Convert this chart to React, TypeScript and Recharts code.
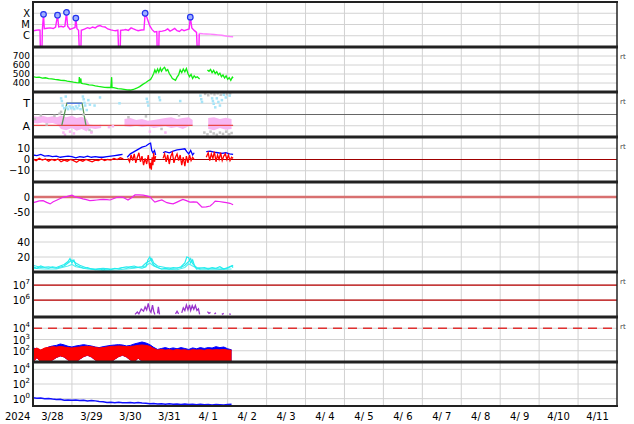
import React from "react";
import {
  ComposedChart,
  Line,
  Area,
  Scatter,
  XAxis,
  YAxis,
  CartesianGrid,
  ReferenceLine,
} from "recharts";

type Pt = [number, number | null];
type Rng = [number, number | null, number | null];

// x axis: days since 3/28 00:00
const dayTicks = [1, 2, 3, 4, 5, 6, 7, 8, 9, 10, 11, 12, 13, 14];
const labelTicks = [0.5, 1.5, 2.5, 3.5, 4.5, 5.5, 6.5, 7.5, 8.5, 9.5, 10.5, 11.5, 12.5, 13.5, 14.5];
const dateLabels = ["3/28", "3/29", "3/30", "3/31", "4/ 1", "4/ 2", "4/ 3", "4/ 4", "4/ 5", "4/ 6", "4/ 7", "4/ 8", "4/ 9", "4/10", "4/11"];

// panel 1: x-ray flux
const xrayFlux: Pt[] = [
  [0.0, 2.7e-6], [0.08, 3.1e-6], [0.15, 3.3e-6], [0.18, 3.2e-6], [0.19, 5e-8], [0.23, 5e-8], [0.24, 3.4e-6],
  [0.27, 8e-5], [0.29, 4.2e-6], [0.36, 4.6e-6], [0.44, 5.0e-6], [0.52, 4.4e-6], [0.58, 6.0e-6], [0.63, 6.7e-5],
  [0.66, 6.2e-6], [0.72, 7.0e-6], [0.78, 6.0e-6], [0.82, 7.4e-6], [0.86, 1.2e-4], [0.89, 7.0e-6], [0.95, 3.6e-6],
  [1.02, 4.5e-6], [1.08, 5.5e-6], [1.1, 3.7e-5], [1.13, 4.2e-6], [1.17, 3.0e-6], [1.19, 5e-8], [1.23, 5e-8],
  [1.24, 3.1e-6], [1.32, 3.9e-6], [1.4, 5.2e-6], [1.46, 4.4e-6], [1.53, 6.0e-6], [1.6, 5.0e-6], [1.66, 7.0e-6],
  [1.72, 8.0e-6], [1.78, 6.5e-6], [1.85, 6.0e-6], [1.92, 4.0e-6], [2.0, 3.3e-6], [2.06, 3.0e-6], [2.12, 2.8e-6],
  [2.18, 3.2e-6], [2.2, 5e-8], [2.24, 5e-8], [2.25, 3.0e-6], [2.32, 3.2e-6], [2.38, 3.6e-6], [2.45, 3.0e-6],
  [2.52, 5.0e-6], [2.58, 4.0e-6], [2.64, 3.3e-6], [2.7, 2.8e-6], [2.78, 3.2e-6], [2.85, 3.4e-6], [2.88, 1.0e-4],
  [2.93, 3.7e-5], [3.0, 7.4e-6], [3.06, 3.5e-6], [3.12, 2.2e-6], [3.18, 2.4e-6], [3.19, 5e-8], [3.23, 5e-8],
  [3.24, 2.4e-6], [3.32, 2.6e-6], [3.4, 3.0e-6], [3.46, 4.0e-6], [3.52, 2.6e-6], [3.58, 3.3e-6], [3.64, 4.5e-6],
  [3.7, 2.8e-6], [3.76, 2.4e-6], [3.82, 3.6e-6], [3.88, 2.8e-6], [3.94, 3.3e-6], [4.01, 4.0e-6], [4.04, 4.5e-5],
  [4.08, 5.0e-6], [4.14, 3.0e-6], [4.2, 2.0e-6], [4.22, 5e-8], [4.26, 5e-8], [4.27, 1.6e-6],
];
const xrayFluxLate: Pt[] = [
  [4.27, 1.6e-6], [4.36, 1.5e-6], [4.45, 1.45e-6], [4.55, 1.4e-6], [4.65, 1.3e-6], [4.75, 1.2e-6],
  [4.85, 1.1e-6], [4.95, 9.5e-7], [5.05, 8.5e-7], [5.14, 8.2e-7],
];
const flarePeaks: Pt[] = [[0.27, 8e-5], [0.63, 6.7e-5], [0.86, 1.2e-4], [1.1, 3.7e-5], [2.88, 1.0e-4], [4.04, 4.5e-5]];

// panel 2: solar wind speed
const solarWind: Pt[] = [
  [0.0, 470], [0.08, 462], [0.16, 466], [0.24, 455], [0.32, 458], [0.4, 448], [0.48, 445], [0.56, 440], [0.64, 436],
  [0.72, 430], [0.8, 428], [0.88, 420], [0.96, 416], [1.04, 410], [1.12, 405], [1.18, 402], [1.19, 465], [1.2, 400],
  [1.23, 450], [1.24, 398], [1.28, 392], [1.36, 388], [1.44, 380], [1.52, 376], [1.6, 368], [1.68, 362], [1.76, 358],
  [1.84, 352], [1.92, 350], [2.0, 352], [2.02, 465], [2.03, 350], [2.1, 345], [2.18, 338], [2.26, 334], [2.34, 330],
  [2.42, 324], [2.5, 322], [2.58, 328], [2.66, 342], [2.74, 360], [2.82, 385], [2.9, 405], [2.96, 425], [3.02, 440],
  [3.06, 470], [3.1, 505], [3.13, 545], [3.16, 515], [3.2, 555], [3.23, 520], [3.27, 565], [3.3, 530], [3.34, 560],
  [3.38, 575], [3.42, 535], [3.46, 550], [3.5, 505], [3.54, 480], [3.58, 450], [3.62, 440], [3.66, 430], [3.7, 465],
  [3.74, 490], [3.78, 545], [3.82, 515], [3.86, 555], [3.9, 525], [3.94, 560], [3.98, 505], [4.02, 470], [4.06, 495],
  [4.1, 450], [4.14, 480], [4.18, 460], [4.22, 470], [4.28, 445], [4.3, null], [4.46, null], [4.48, 545], [4.52, 530],
  [4.56, 550], [4.6, 515], [4.64, 540], [4.68, 505], [4.72, 525], [4.76, 490], [4.8, 510], [4.84, 470], [4.88, 490],
  [4.92, 455], [4.96, 480], [5.0, 440], [5.04, 460], [5.08, 430], [5.12, 465], [5.14, 455],
];

// panel 3: sector / scattered points (0..1 scale, A = 0.25, T = 0.75)
const p3Pink: Rng[] = [
  [0.0, 0.31, 0.46], [0.12, 0.3, 0.45], [0.25, 0.32, 0.47], [0.38, 0.3, 0.44], [0.5, 0.31, 0.46], [0.62, 0.28, 0.44],
  [0.72, 0.18, 0.48], [0.85, 0.15, 0.44], [1.0, 0.2, 0.47], [1.12, 0.14, 0.42], [1.25, 0.18, 0.45], [1.38, 0.12, 0.4],
  [1.45, 0.2, 0.28], [1.6, 0.18, 0.26], [1.75, 0.2, 0.27], [1.85, null, null], [2.3, null, null], [2.35, 0.24, 0.4],
  [2.5, 0.22, 0.42], [2.65, 0.25, 0.38], [2.8, 0.22, 0.4], [2.95, 0.24, 0.36], [3.1, 0.2, 0.38], [3.25, 0.22, 0.4],
  [3.4, 0.24, 0.42], [3.55, 0.2, 0.44], [3.7, 0.22, 0.4], [3.85, 0.18, 0.42], [4.0, 0.24, 0.44], [4.1, 0.26, 0.38],
  [4.15, null, null], [4.45, null, null], [4.5, 0.18, 0.42], [4.65, 0.15, 0.44], [4.8, 0.2, 0.4], [4.95, 0.16, 0.43],
  [5.1, 0.18, 0.4],
];
const p3PinkDots: Pt[] = [
  [0.78, 0.1], [0.82, 0.05], [0.95, 0.12], [1.05, 0.08], [1.5, 0.1], [1.95, 0.22], [2.05, 0.24], [3.0, 0.12], [3.4, 0.1],
];
const p3BlueDots: Pt[] = [
  [0.72, 0.86], [0.74, 0.8], [0.76, 0.7], [0.8, 0.64], [0.84, 0.9], [0.86, 0.66], [0.9, 0.62], [0.94, 0.68], [0.98, 0.64],
  [1.02, 0.66], [1.06, 0.62], [1.1, 0.68], [1.14, 0.64], [1.18, 0.7], [1.22, 0.62], [1.28, 0.9], [1.3, 0.84], [1.32, 0.76],
  [1.34, 0.7], [1.38, 0.6], [1.42, 0.82], [1.46, 0.72], [1.58, 0.7], [1.72, 0.88], [2.22, 0.75], [2.92, 0.85], [2.94, 0.78],
  [2.96, 0.7], [3.24, 0.88], [3.26, 0.82], [3.78, 0.8], [4.3, 0.92], [4.32, 0.84], [4.34, 0.78], [4.6, 0.86], [4.62, 0.8],
  [4.64, 0.74], [4.68, 0.66], [4.72, 0.86], [4.76, 0.78], [4.8, 0.7], [4.85, 0.82], [4.9, 0.94], [4.95, 0.88], [5.05, 0.92],
];
const p3GrayDots: Pt[] = [
  [0.05, 0.4], [0.2, 0.48], [0.35, 0.28], [0.55, 0.47], [0.68, 0.52], [0.72, 0.56], [1.3, 0.5], [1.45, 0.16], [1.5, 0.12],
  [2.45, 0.44], [2.9, 0.46], [3.3, 0.18], [3.75, 0.48], [4.42, 0.96], [4.5, 0.93], [4.58, 0.97], [4.66, 0.95], [4.74, 0.97],
  [4.82, 0.94], [4.9, 0.96], [4.98, 0.95], [5.06, 0.97], [4.4, 0.1], [4.48, 0.06], [4.56, 0.12], [4.64, 0.08], [4.72, 0.05],
  [4.8, 0.1], [4.88, 0.07], [4.96, 0.12], [5.04, 0.06], [5.1, 0.09],
];
const p3Sector: Pt[] = [[0.74, 0.26], [0.87, 0.75], [1.26, 0.75], [1.36, 0.26]];
const p3SectorTop: Pt[] = [[0.87, 0.75], [1.26, 0.75]];
const p3RedLine: Pt[] = [[0.0, 0.26], [4.1, 0.26], [4.12, null], [4.5, 0.26], [5.14, 0.26]];

// panel 4: IMF Bt (blue) and Bz (red)
const imfBt: Pt[] = [
  [0.0, 4], [0.1, 3.5], [0.2, 4.5], [0.3, 3], [0.4, 3.5], [0.5, 2.5], [0.6, 3], [0.7, 2], [0.8, 2.5], [0.9, 3], [1.0, 2.5],
  [1.1, 1.5], [1.2, 2.5], [1.3, 2], [1.4, 3], [1.5, 2], [1.6, 2.5], [1.7, 2], [1.8, 2], [1.9, 2.5], [2.0, 3], [2.1, 3.5],
  [2.2, 4], [2.3, 4.5], [2.35, null], [2.42, 2], [2.5, 5], [2.6, 7], [2.7, 9], [2.8, 11], [2.9, 12], [2.98, 14],
  [3.02, 14.5], [3.05, 8], [3.08, 6], [3.12, 8], [3.15, 4], [3.18, null], [3.34, 6], [3.4, 7], [3.5, 6], [3.6, 7.5],
  [3.7, 8.5], [3.8, 9], [3.9, 9.5], [3.95, 7], [4.0, 5], [4.05, 8], [4.1, 4], [4.14, 6], [4.18, null], [4.45, 7],
  [4.55, 7.5], [4.65, 6.5], [4.75, 6], [4.85, 5.5], [4.95, 6], [5.05, 5], [5.14, 4.5],
];
const imfBz: Pt[] = [
  [0.0, 0.5], [0.08, -1], [0.16, 1], [0.24, -0.5], [0.32, 0.5], [0.4, -1.5], [0.48, 0], [0.56, -1], [0.64, 0.5],
  [0.72, -2], [0.8, -0.5], [0.88, -1.5], [0.96, 0], [1.04, -1], [1.12, -2.5], [1.2, -0.5], [1.28, -1.5], [1.36, 0],
  [1.44, -1], [1.52, -2], [1.6, -0.5], [1.68, -1], [1.76, 0.5], [1.84, -1], [1.92, 0], [2.0, -0.5], [2.08, 1], [2.16, 0],
  [2.24, 1.5], [2.32, 0.5], [2.36, null], [2.44, 1], [2.48, -2], [2.52, 4], [2.56, -1], [2.6, 5], [2.64, -3], [2.68, 2],
  [2.72, 6], [2.76, -2], [2.8, 3], [2.84, -5], [2.88, 1], [2.92, -4], [2.96, 4], [3.0, -8], [3.02, -3], [3.04, -9],
  [3.06, 2], [3.08, -5], [3.1, 6], [3.12, -2], [3.15, 3], [3.18, null], [3.34, 1], [3.38, 5], [3.42, -2], [3.46, 4],
  [3.5, -4], [3.54, 3], [3.58, 6], [3.62, -3], [3.66, 2], [3.7, 5], [3.74, -1], [3.78, 4], [3.82, -5], [3.86, 2],
  [3.9, -6], [3.94, 3], [3.98, -3], [4.02, 4], [4.06, -1], [4.1, 2], [4.14, 0], [4.18, null], [4.45, 2], [4.5, 6],
  [4.54, -1], [4.58, 5], [4.62, 1], [4.66, 7], [4.7, -2], [4.74, 4], [4.78, 0], [4.82, 6], [4.86, -1], [4.9, 3],
  [4.94, 5], [4.98, 0], [5.02, 4], [5.06, -1], [5.1, 2], [5.14, 1],
];

// panel 5: Dst
const dst: Pt[] = [
  [0.0, -19], [0.08, -16], [0.16, -13], [0.26, -12], [0.35, -18], [0.44, -23], [0.52, -16], [0.62, -10], [0.7, -5],
  [0.77, -1], [0.88, 2], [1.0, 6], [1.06, 2], [1.13, -1], [1.2, -3], [1.28, -6], [1.37, -9], [1.46, -12], [1.55, -11],
  [1.64, -10], [1.72, -9], [1.8, -8], [1.9, -9], [1.98, -10], [2.06, -6], [2.16, -1], [2.24, 0], [2.31, -1], [2.38, -6],
  [2.44, -10], [2.52, -3], [2.62, 7], [2.72, 7], [2.83, 6], [2.92, 4], [3.0, 1], [3.06, -8], [3.13, -17], [3.22, -13],
  [3.31, -10], [3.38, -15], [3.44, -19], [3.52, -21], [3.6, -23], [3.7, -17], [3.78, -12], [3.85, -8], [3.94, -12],
  [4.03, -17], [4.12, -16], [4.21, -17], [4.28, -26], [4.34, -34], [4.45, -33], [4.55, -30], [4.62, -22], [4.68, -14],
  [4.78, -15], [4.88, -17], [4.97, -19], [5.06, -21], [5.14, -26],
];

// panel 6: three cyan indices
const cyanA: Pt[] = [
  [0.0, 7], [0.1, 5], [0.2, 8], [0.3, 6], [0.4, 5], [0.5, 7], [0.6, 6], [0.7, 8], [0.8, 10], [0.9, 14], [0.95, 18],
  [1.0, 12], [1.05, 16], [1.1, 9], [1.2, 7], [1.3, 5], [1.4, 6], [1.5, 4], [1.6, 3], [1.7, 4], [1.8, 3], [1.9, 4],
  [2.0, 3], [2.1, 5], [2.2, 4], [2.3, 6], [2.4, 5], [2.5, 7], [2.6, 8], [2.7, 6], [2.8, 5], [2.9, 7], [2.95, 16],
  [3.0, 20], [3.05, 14], [3.1, 9], [3.2, 6], [3.3, 4], [3.4, 5], [3.5, 4], [3.6, 6], [3.7, 5], [3.8, 7], [3.9, 12],
  [3.95, 20], [4.0, 19], [4.05, 12], [4.1, 16], [4.15, 8], [4.2, 4], [4.3, 5], [4.4, 6], [4.5, 4], [4.6, 6], [4.7, 5],
  [4.8, 7], [4.9, 4], [5.0, 6], [5.1, 8], [5.14, 6],
];
const cyanB: Pt[] = [
  [0.0, 9], [0.2, 6], [0.4, 7], [0.6, 5], [0.8, 8], [0.9, 12], [1.0, 16], [1.1, 12], [1.2, 9], [1.4, 5], [1.6, 4],
  [1.8, 5], [2.0, 4], [2.2, 5], [2.4, 7], [2.6, 6], [2.8, 7], [2.9, 12], [3.0, 15], [3.05, 18], [3.1, 12], [3.2, 8],
  [3.4, 6], [3.6, 5], [3.8, 6], [3.9, 9], [4.0, 14], [4.05, 18], [4.1, 11], [4.2, 6], [4.4, 5], [4.6, 5], [4.8, 4],
  [5.0, 5], [5.14, 9],
];
const cyanC: Pt[] = [
  [0.0, 5], [0.3, 4], [0.6, 4], [0.9, 8], [1.0, 10], [1.1, 7], [1.4, 4], [1.8, 2], [2.2, 3], [2.6, 5], [2.9, 8],
  [3.0, 12], [3.1, 8], [3.3, 4], [3.7, 3], [3.9, 6], [4.0, 11], [4.1, 8], [4.3, 3], [4.7, 3], [5.1, 4],
];

// panel 7: purple flux (log)
const purpleFlux: Pt[] = [
  [2.62, 1.1e5], [2.68, 1.6e5], [2.72, 1.2e5], [2.78, 2.5e5], [2.84, 1.8e5], [2.88, 3.5e5], [2.92, 2.2e5], [2.96, 6e5],
  [3.0, 2.0e5], [3.03, 1.5e5], [3.07, 4.6e5], [3.1, 1.8e5], [3.13, 1.1e5], [3.16, null], [3.2, 1.3e5], [3.22, 3.5e5],
  [3.25, 1.1e5], [3.3, null], [3.66, 1.2e5], [3.7, 1.8e5], [3.74, 1.2e5], [3.78, null], [3.82, 1.4e5], [3.86, 3.0e5],
  [3.9, 2.0e5], [3.94, 4.6e5], [3.98, 2.2e5], [4.02, 4.8e5], [4.05, 2.0e5], [4.09, 4.2e5], [4.13, 2.4e5], [4.17, 4.4e5],
  [4.21, 2.0e5], [4.25, 2.6e5], [4.28, 1.1e5], [4.32, null], [4.48, 1.7e5], [4.52, 1.3e5], [4.56, 1.5e5], [4.6, null],
  [4.66, 1.2e5], [4.7, 1.4e5], [4.74, null], [4.85, 1.1e5], [4.9, 1.3e5], [4.94, null], [5.04, 1.2e5], [5.08, 1.1e5],
];

// panel 8: particle flux bands (log)
const p8Time = [
  0, 0.1, 0.2, 0.3, 0.4, 0.5, 0.6, 0.7, 0.8, 0.9, 1, 1.1, 1.2, 1.3, 1.4, 1.5, 1.6, 1.7, 1.8, 1.9, 2, 2.1, 2.2, 2.3, 2.4, 2.5,
  2.6, 2.7, 2.8, 2.9, 3, 3.1, 3.2, 3.3, 3.4, 3.5, 3.6, 3.7, 3.8, 3.9, 4, 4.1, 4.2, 4.3, 4.4, 4.5, 4.6, 4.7, 4.8, 4.9, 5, 5.1,
];
const p8RedLow = [
  10, 25, 10, 10, 10, 15, 25, 35, 28, 15, 10, 10, 18, 30, 40, 28, 15, 10, 10, 10, 10, 18, 30, 40, 28, 15,
  10, 22, 12, 10, 10, 10, 10, 10, 10, 10, 10, 10, 10, 10, 10, 10, 10, 10, 10, 10, 10, 10, 10, 10, 10, 10,
];
const p8RedHigh = [
  130, 175, 116, 175, 200, 230, 215, 240, 215, 190, 175, 200, 215, 240, 250, 230, 200, 175, 190, 215, 240, 250, 265, 250, 230, 240,
  265, 300, 325, 300, 250, 160, 116, 130, 116, 125, 110, 130, 116, 120, 105, 125, 116, 120, 110, 130, 116, 125, 120, 130, 116, 110,
];
const p8BlueHigh = [
  175, 150, 110, 150, 215, 265, 300, 400, 330, 250, 215, 265, 300, 350, 300, 265, 215, 190, 230, 265, 300, 325, 350, 325, 265, 300,
  400, 490, 600, 490, 350, 200, 130, 160, 190, 150, 180, 150, 190, 160, 130, 180, 150, 190, 160, 190, 175, 230, 190, 215, 150, 120,
];

// panel 9: blue flux (log)
const lowFlux: Pt[] = [
  [0, 1.3], [0.1, 1.1], [0.2, 1.2], [0.3, 1.0], [0.4, 1.05], [0.5, 0.9], [0.6, 0.8], [0.7, 0.85], [0.8, 0.6], [0.9, 0.65],
  [1.0, 0.6], [1.1, 0.65], [1.2, 0.55], [1.3, 0.6], [1.4, 0.5], [1.5, 0.55], [1.6, 0.5], [1.7, 0.42], [1.8, 0.38],
  [1.9, 0.3], [2.0, 0.32], [2.1, 0.28], [2.2, 0.32], [2.3, 0.28], [2.4, 0.27], [2.5, 0.3], [2.6, 0.26], [2.7, 0.3],
  [2.8, 0.25], [2.9, 0.23], [3.0, 0.2], [3.1, 0.22], [3.2, 0.19], [3.3, 0.21], [3.4, 0.18], [3.5, 0.2], [3.6, 0.17],
  [3.7, 0.19], [3.8, 0.16], [3.9, 0.18], [4.0, 0.16], [4.1, 0.17], [4.2, 0.15], [4.3, 0.17], [4.4, 0.15], [4.5, 0.16],
  [4.6, 0.14], [4.7, 0.16], [4.8, 0.15], [4.9, 0.14], [5.0, 0.16], [5.1, 0.17],
];

const FONT = "DejaVu Sans";
const rows = (pts: Pt[]) => pts.map(([t, v]) => ({ t, v }));
const rngRows = (pts: Rng[]) => pts.map(([t, lo, hi]) => ({ t, r: lo == null ? null : [lo, hi] }));
const p8Red = p8Time.map((t, i) => ({ t, r: [p8RedLow[i], p8RedHigh[i]] }));
const p8Blue = p8Time.map((t, i) => ({ t, r: [p8RedLow[i], p8BlueHigh[i]] }));

const textTick = (fmt: (v: number) => string, size = 10) => (p: any) => (
  <text x={30} y={p.y} dy={size * 0.36} textAnchor="end" fontSize={size} fontFamily={FONT} fill="#000">
    {fmt(p.payload.value)}
  </text>
);
const powTick = (p: any) => (
  <text x={30} y={p.y} dy={4} textAnchor="end" fontSize={10} fontFamily={FONT} fill="#000">
    10
    <tspan dy={-5} fontSize={7}>{Math.round(Math.log10(p.payload.value))}</tspan>
  </text>
);
const xrayClass = (v: number) => ({ "-4": "X", "-5": "M", "-6": "C" } as any)[String(Math.round(Math.log10(v)))];

const squareDot = (color: string) => (p: any) =>
  p.cx == null ? null : <rect x={p.cx - 1.2} y={p.cy - 1.2} width={2.5} height={2.5} fill={color} />;

const dateTick = (p: any) => (
  <text x={p.x} y={p.y} dy={6} textAnchor="middle" fontSize={10} fontFamily={FONT} fill="#000" style={{ whiteSpace: "pre" }}>
    {dateLabels[Math.floor(p.payload.value)]}
  </text>
);

function Panel({ top, height = 45, domain, ticks, scale = "linear", tick, children, bottomAxis = false }: any) {
  return (
    <div style={{ position: "absolute", left: 0, top }}>
      <ComposedChart width={634} height={height} margin={{ top: 0, right: 17, bottom: 0, left: 0 }}>
        <CartesianGrid stroke="#d2d2d2" strokeWidth={1} verticalValues={dayTicks} />
        {bottomAxis ? (
          <XAxis
            type="number"
            dataKey="t"
            domain={[0, 15]}
            ticks={labelTicks}
            allowDataOverflow
            height={20}
            axisLine={false}
            tickLine={false}
            interval={0}
            tick={dateTick}
          />
        ) : (
          <XAxis type="number" dataKey="t" domain={[0, 15]} ticks={dayTicks} allowDataOverflow hide />
        )}
        <YAxis
          type="number"
          dataKey="v"
          width={33}
          domain={domain}
          ticks={ticks}
          scale={scale}
          allowDataOverflow
          axisLine={false}
          tickLine={false}
          interval={0}
          tick={tick}
        />
        {children}
      </ComposedChart>
    </div>
  );
}

const sepYs = [47, 92, 137, 182, 227, 272, 317, 362];
const rtYs = [59, 104, 149, 284, 329];

export default function App() {
  return (
    <div style={{ position: "absolute", left: 0, top: 0, width: 634, height: 424, background: "#fff" }}>
      <Panel top={2} domain={[1e-7, 1e-3]} ticks={[1e-6, 1e-5, 1e-4]} scale="log" tick={textTick(xrayClass, 10)}>
        <Line data={rows(xrayFlux)} dataKey="v" stroke="#ff22ff" strokeWidth={1.4} dot={false} isAnimationActive={false} />
        <Line data={rows(xrayFluxLate)} dataKey="v" stroke="#ff80ff" strokeWidth={1.4} dot={false} isAnimationActive={false} />
        <Scatter
          data={rows(flarePeaks)}
          isAnimationActive={false}
          shape={(p: any) => <circle cx={p.cx} cy={p.cy} r={2.8} fill="#9fb0ff" stroke="#2233ee" strokeWidth={1.2} />}
        />
      </Panel>

      <Panel top={47} domain={[300, 800]} ticks={[400, 500, 600, 700]} tick={textTick((v) => String(v), 9)}>
        <Line data={rows(solarWind)} dataKey="v" stroke="#11ee11" strokeWidth={1.3} dot={false} isAnimationActive={false} />
      </Panel>

      <Panel top={92} domain={[0, 1]} ticks={[0.25, 0.75]} tick={textTick((v) => (v > 0.5 ? "T" : "A"), 11)}>
        <ReferenceLine y={0.5} stroke="#666" strokeWidth={1} />
        <Area data={rngRows(p3Pink)} dataKey="r" fill="#f8b6f2" fillOpacity={1} stroke="none" isAnimationActive={false} />
        <Scatter data={rows(p3GrayDots)} isAnimationActive={false} shape={squareDot("#c4c4c4")} />
        <Scatter data={rows(p3PinkDots)} isAnimationActive={false} shape={squareDot("#f8b6f2")} />
        <Scatter data={rows(p3BlueDots)} isAnimationActive={false} shape={squareDot("#a6e4f8")} />
        <Line data={rows(p3RedLine)} dataKey="v" stroke="#e84848" strokeWidth={1.2} dot={false} isAnimationActive={false} />
        <Line data={rows(p3Sector)} dataKey="v" stroke="#5a9a5a" strokeWidth={1.3} dot={false} isAnimationActive={false} />
        <Line data={rows(p3SectorTop)} dataKey="v" stroke="#5577ee" strokeWidth={1.3} dot={false} isAnimationActive={false} />
      </Panel>

      <Panel top={137} domain={[-20, 20]} ticks={[-10, 0, 10]} tick={textTick((v) => (v < 0 ? "\u2212" + Math.abs(v) : String(v)))}>
        <ReferenceLine y={0} stroke="#a00000" strokeWidth={1} />
        <Line data={rows(imfBt)} dataKey="v" stroke="#0000ff" strokeWidth={1.3} dot={false} isAnimationActive={false} />
        <Line data={rows(imfBz)} dataKey="v" stroke="#ff0000" strokeWidth={1.3} dot={false} isAnimationActive={false} />
      </Panel>

      <Panel top={182} domain={[-100, 50]} ticks={[-50, 0]} tick={textTick((v) => String(v))}>
        <ReferenceLine y={0} stroke="#d87070" strokeWidth={2.5} />
        <Line data={rows(dst)} dataKey="v" stroke="#ee22ee" strokeWidth={1.2} dot={false} isAnimationActive={false} />
      </Panel>

      <Panel top={227} domain={[0, 60]} ticks={[20, 40]} tick={textTick((v) => String(v))}>
        <Line data={rows(cyanC)} dataKey="v" stroke="#55eeee" strokeWidth={1.2} dot={false} isAnimationActive={false} />
        <Line data={rows(cyanB)} dataKey="v" stroke="#33e8ee" strokeWidth={1.2} dot={false} isAnimationActive={false} />
        <Line data={rows(cyanA)} dataKey="v" stroke="#22eeee" strokeWidth={1.2} dot={false} isAnimationActive={false} />
      </Panel>

      <Panel top={272} domain={[7.4e4, 7.4e7]} ticks={[1e6, 1e7]} scale="log" tick={powTick}>
        <ReferenceLine y={1e7} stroke="#bb0000" strokeWidth={1.3} />
        <ReferenceLine y={1e6} stroke="#bb0000" strokeWidth={1.3} />
        <Line data={rows(purpleFlux)} dataKey="v" stroke="#9933cc" strokeWidth={1.3} dot={false} isAnimationActive={false} />
      </Panel>

      <Panel top={317} domain={[10, 1e5]} ticks={[1e2, 1e3, 1e4]} scale="log" tick={powTick}>
        <ReferenceLine y={1e4} stroke="#e03030" strokeWidth={1.5} strokeDasharray="9 6" />
        <Area data={p8Blue} dataKey="r" fill="#0000ff" fillOpacity={1} stroke="#0000ff" strokeWidth={1} isAnimationActive={false} />
        <Area data={p8Red} dataKey="r" fill="#ff0000" fillOpacity={1} stroke="#ff0000" strokeWidth={1} isAnimationActive={false} />
      </Panel>

      <Panel top={362} height={64} domain={[0.1, 1e5]} ticks={[1, 1e2, 1e4]} scale="log" tick={powTick} bottomAxis>
        <Line data={rows(lowFlux)} dataKey="v" stroke="#1010ff" strokeWidth={1.5} dot={false} isAnimationActive={false} />
      </Panel>

      <svg width={634} height={424} style={{ position: "absolute", left: 0, top: 0, pointerEvents: "none" }}>
        {sepYs.map((y) => (
          <line key={y} x1={32} x2={618} y1={y} y2={y} stroke="#222" strokeWidth={3} />
        ))}
        <line x1={32} x2={618} y1={2} y2={2} stroke="#222" strokeWidth={2} />
        <line x1={32} x2={618} y1={406} y2={406} stroke="#222" strokeWidth={2} />
        <line x1={33} x2={33} y1={1} y2={407} stroke="#222" strokeWidth={2} />
        <line x1={617} x2={617} y1={1} y2={407} stroke="#222" strokeWidth={1.5} />
        {rtYs.map((y) => (
          <text key={y} x={620} y={y} fontSize={7} fontFamily={FONT} fill="#444">rt</text>
        ))}
        <text x={5} y={420} fontSize={10} fontFamily={FONT} fill="#000">2024</text>
      </svg>
    </div>
  );
}
